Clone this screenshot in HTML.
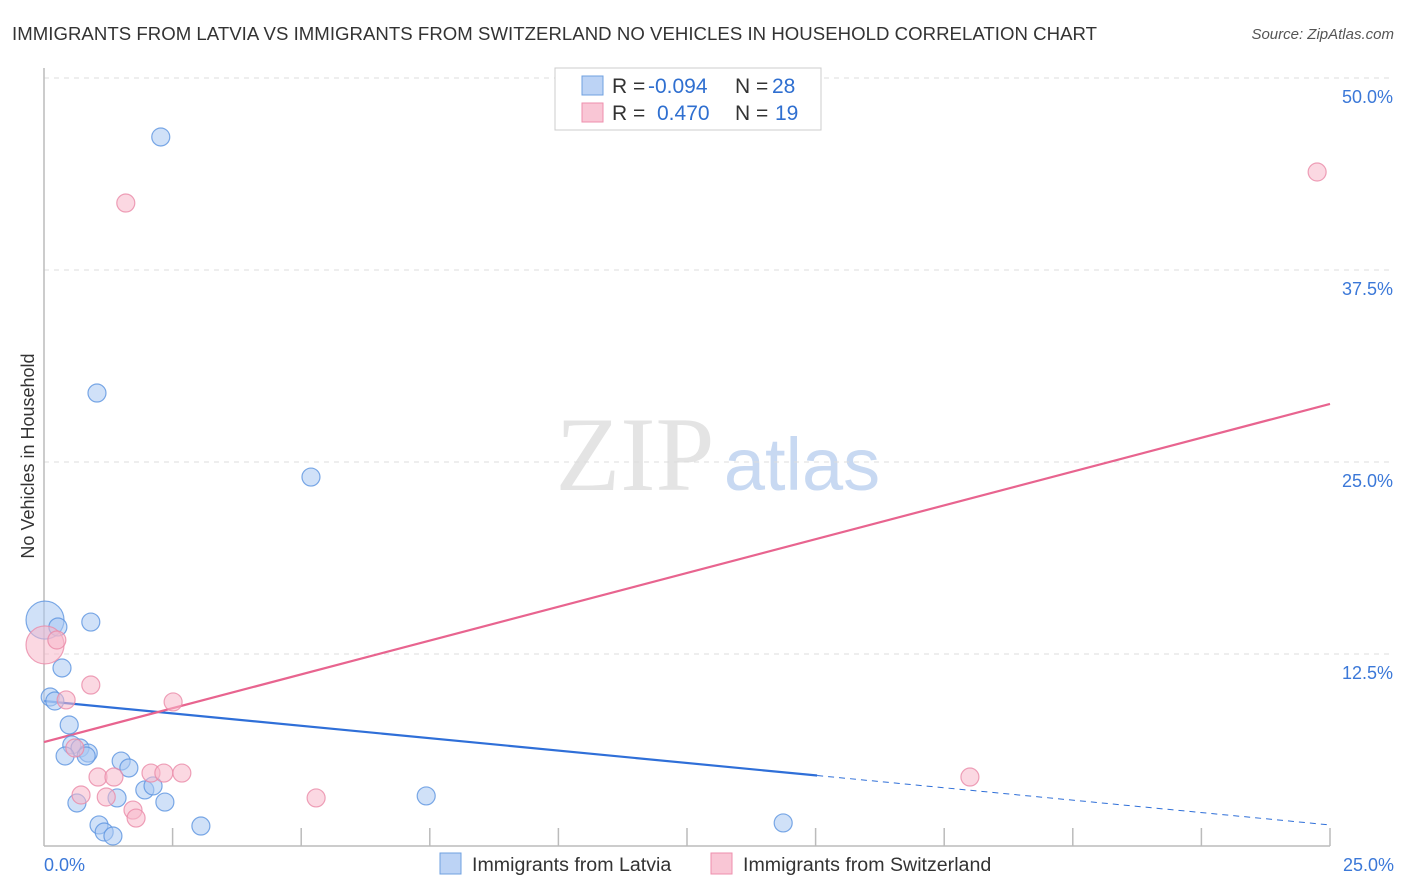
<!DOCTYPE html>
<html><head><meta charset="utf-8"><style>
body{margin:0;background:#fff;width:1406px;height:892px;overflow:hidden;font-family:"Liberation Sans",sans-serif}
svg{position:absolute;left:0;top:0}
</style></head><body>
<svg id="c" width="1406" height="892">
<text x="12" y="40" font-size="18.6" fill="#333" textLength="1085">IMMIGRANTS FROM LATVIA VS IMMIGRANTS FROM SWITZERLAND NO VEHICLES IN HOUSEHOLD CORRELATION CHART</text>
<text x="1394" y="39" font-size="15" fill="#555" font-style="italic" text-anchor="end">Source: ZipAtlas.com</text>
<text x="34" y="456" font-size="18" fill="#333" text-anchor="middle" transform="rotate(-90 34 456)">No Vehicles in Household</text>
<g><text x="635" y="490" font-size="106" fill="#e4e4e4" font-family="Liberation Serif,serif" text-anchor="middle">ZIP</text><text x="802" y="490" font-size="74" fill="#c8d9f2" text-anchor="middle">atlas</text></g>
<g id="grid"></g><g id="axes"></g><g id="lines"></g><g id="pts"></g>
<g>
<rect x="555" y="68" width="266" height="62" fill="#fff" stroke="#ccc"/>
<rect x="582" y="76" width="21" height="19" fill="#bcd3f5" stroke="#6fa0e0"/>
<rect x="582" y="103" width="21" height="19" fill="#f9c6d5" stroke="#ee8fad"/>
<text x="612" y="93" font-size="21" fill="#333">R = <tspan x="648" fill="#2f6fd0">-0.094</tspan><tspan x="735">N = </tspan><tspan x="772" fill="#2f6fd0">28</tspan></text>
<text x="612" y="120" font-size="21" fill="#333">R = <tspan x="657" fill="#2f6fd0">0.470</tspan><tspan x="735">N = </tspan><tspan x="775" fill="#2f6fd0">19</tspan></text>
</g>
<g>
<rect x="440" y="853" width="21" height="21" fill="#bcd3f5" stroke="#6fa0e0"/>
<text x="472" y="871" font-size="19.6" fill="#333">Immigrants from Latvia</text>
<rect x="711" y="853" width="21" height="21" fill="#f9c6d5" stroke="#ee8fad"/>
<text x="743" y="871" font-size="19.6" fill="#333">Immigrants from Switzerland</text>
</g>
</svg>
<script>
const latviaX=[2.27,1.03,5.19,0.02,0.27,0.91,0.35,0.12,0.21,0.49,0.54,0.70,0.86,0.41,0.82,1.50,1.65,0.64,1.42,1.96,2.12,2.35,1.07,1.17,1.34,3.05,7.43,14.37];
const latviaY=[46.16,29.49,24.02,14.71,14.26,14.58,11.59,9.70,9.44,7.88,6.58,6.38,6.05,5.86,5.86,5.53,5.08,2.80,3.13,3.65,3.91,2.86,1.37,0.91,0.65,1.30,3.26,1.50];
const swissX=[1.59,24.75,0.02,0.25,0.91,0.43,2.51,0.60,0.72,1.05,1.36,1.21,2.08,2.33,2.68,1.73,1.79,5.29,18.0];
const swissY=[41.86,43.88,13.09,13.41,10.48,9.51,9.38,6.38,3.32,4.49,4.49,3.19,4.75,4.75,4.75,2.34,1.82,3.13,4.49];
const latviaTrend=[9.44,1.37];
const latviaSolidEnd=15.03;
const swissTrend=[6.77,28.78];
const yTicks=[12.5,25.0,37.5,50.0];
const xTickVals=[2.5,5,7.5,10,12.5,15,17.5,20,22.5,25];
const xLabels=["0.0%","25.0%"];
const NS="http://www.w3.org/2000/svg";
const sx=v=>44+v/25*1286, sy=v=>846-v*15.36;
function mk(parent,tag,attrs){const e=document.createElementNS(NS,tag);for(const k in attrs)e.setAttribute(k,attrs[k]);document.getElementById(parent).appendChild(e);return e;}
yTicks.forEach(t=>{
 const l=mk('grid','line',{x1:44,x2:1394,y1:sy(t),y2:sy(t),stroke:'#ddd','stroke-dasharray':'5,5'});
 
 
 const tx=mk('grid','text',{x:1393,y:sy(t)+25,'font-size':18,fill:'#3b78d8','text-anchor':'end'});tx.textContent=t.toFixed(1)+'%';
 
 
});
let ax=mk('axes','line',{x1:44,x2:44,y1:68,y2:846,stroke:'#bbb','stroke-width':1.5});


ax=mk('axes','line',{x1:44,x2:1330,y1:846,y2:846,stroke:'#bbb','stroke-width':1.5});


xTickVals.forEach(t=>{const l=mk('axes','line',{x1:sx(t),x2:sx(t),y1:828,y2:846,stroke:'#bbb','stroke-width':1.5});
 
 });
[[0,44,'start'],[25,1394,'end']].forEach((d,i)=>{const tx=mk('axes','text',{x:d[1],y:871,'font-size':18,fill:'#3b78d8','text-anchor':d[2]});tx.textContent=xLabels[i];
 
 });
const lt=v=>latviaTrend[0]+(latviaTrend[1]-latviaTrend[0])*v/25;
let ln=mk('lines','line',{x1:sx(0),y1:sy(lt(0)),x2:sx(latviaSolidEnd),y2:sy(lt(latviaSolidEnd)),stroke:'#2f6fd8','stroke-width':2.2});


ln=mk('lines','line',{x1:sx(latviaSolidEnd),y1:sy(lt(latviaSolidEnd)),x2:sx(25),y2:sy(lt(25)),stroke:'#2f6fd8','stroke-width':1,'stroke-dasharray':'6,5'});


ln=mk('lines','line',{x1:sx(0),y1:sy(swissTrend[0]),x2:sx(25),y2:sy(swissTrend[1]),stroke:'#e8648f','stroke-width':2.2});


function pts(xs,ys,fill,stroke,name){xs.forEach((x,i)=>{const r=(i<4&&x<0.05)?19:9;
 const c=mk('pts','circle',{cx:sx(x),cy:sy(ys[i]),r:r,fill:fill,'fill-opacity':0.55,stroke:stroke,'stroke-opacity':0.8,'stroke-width':1.2});
 
 });}
pts(latviaX,latviaY,'#a9c8f2','#5b93e0','latvia-point');
pts(swissX,swissY,'#f7b8cb','#ea8aa8','switzerland-point');
</script>
</body></html>
